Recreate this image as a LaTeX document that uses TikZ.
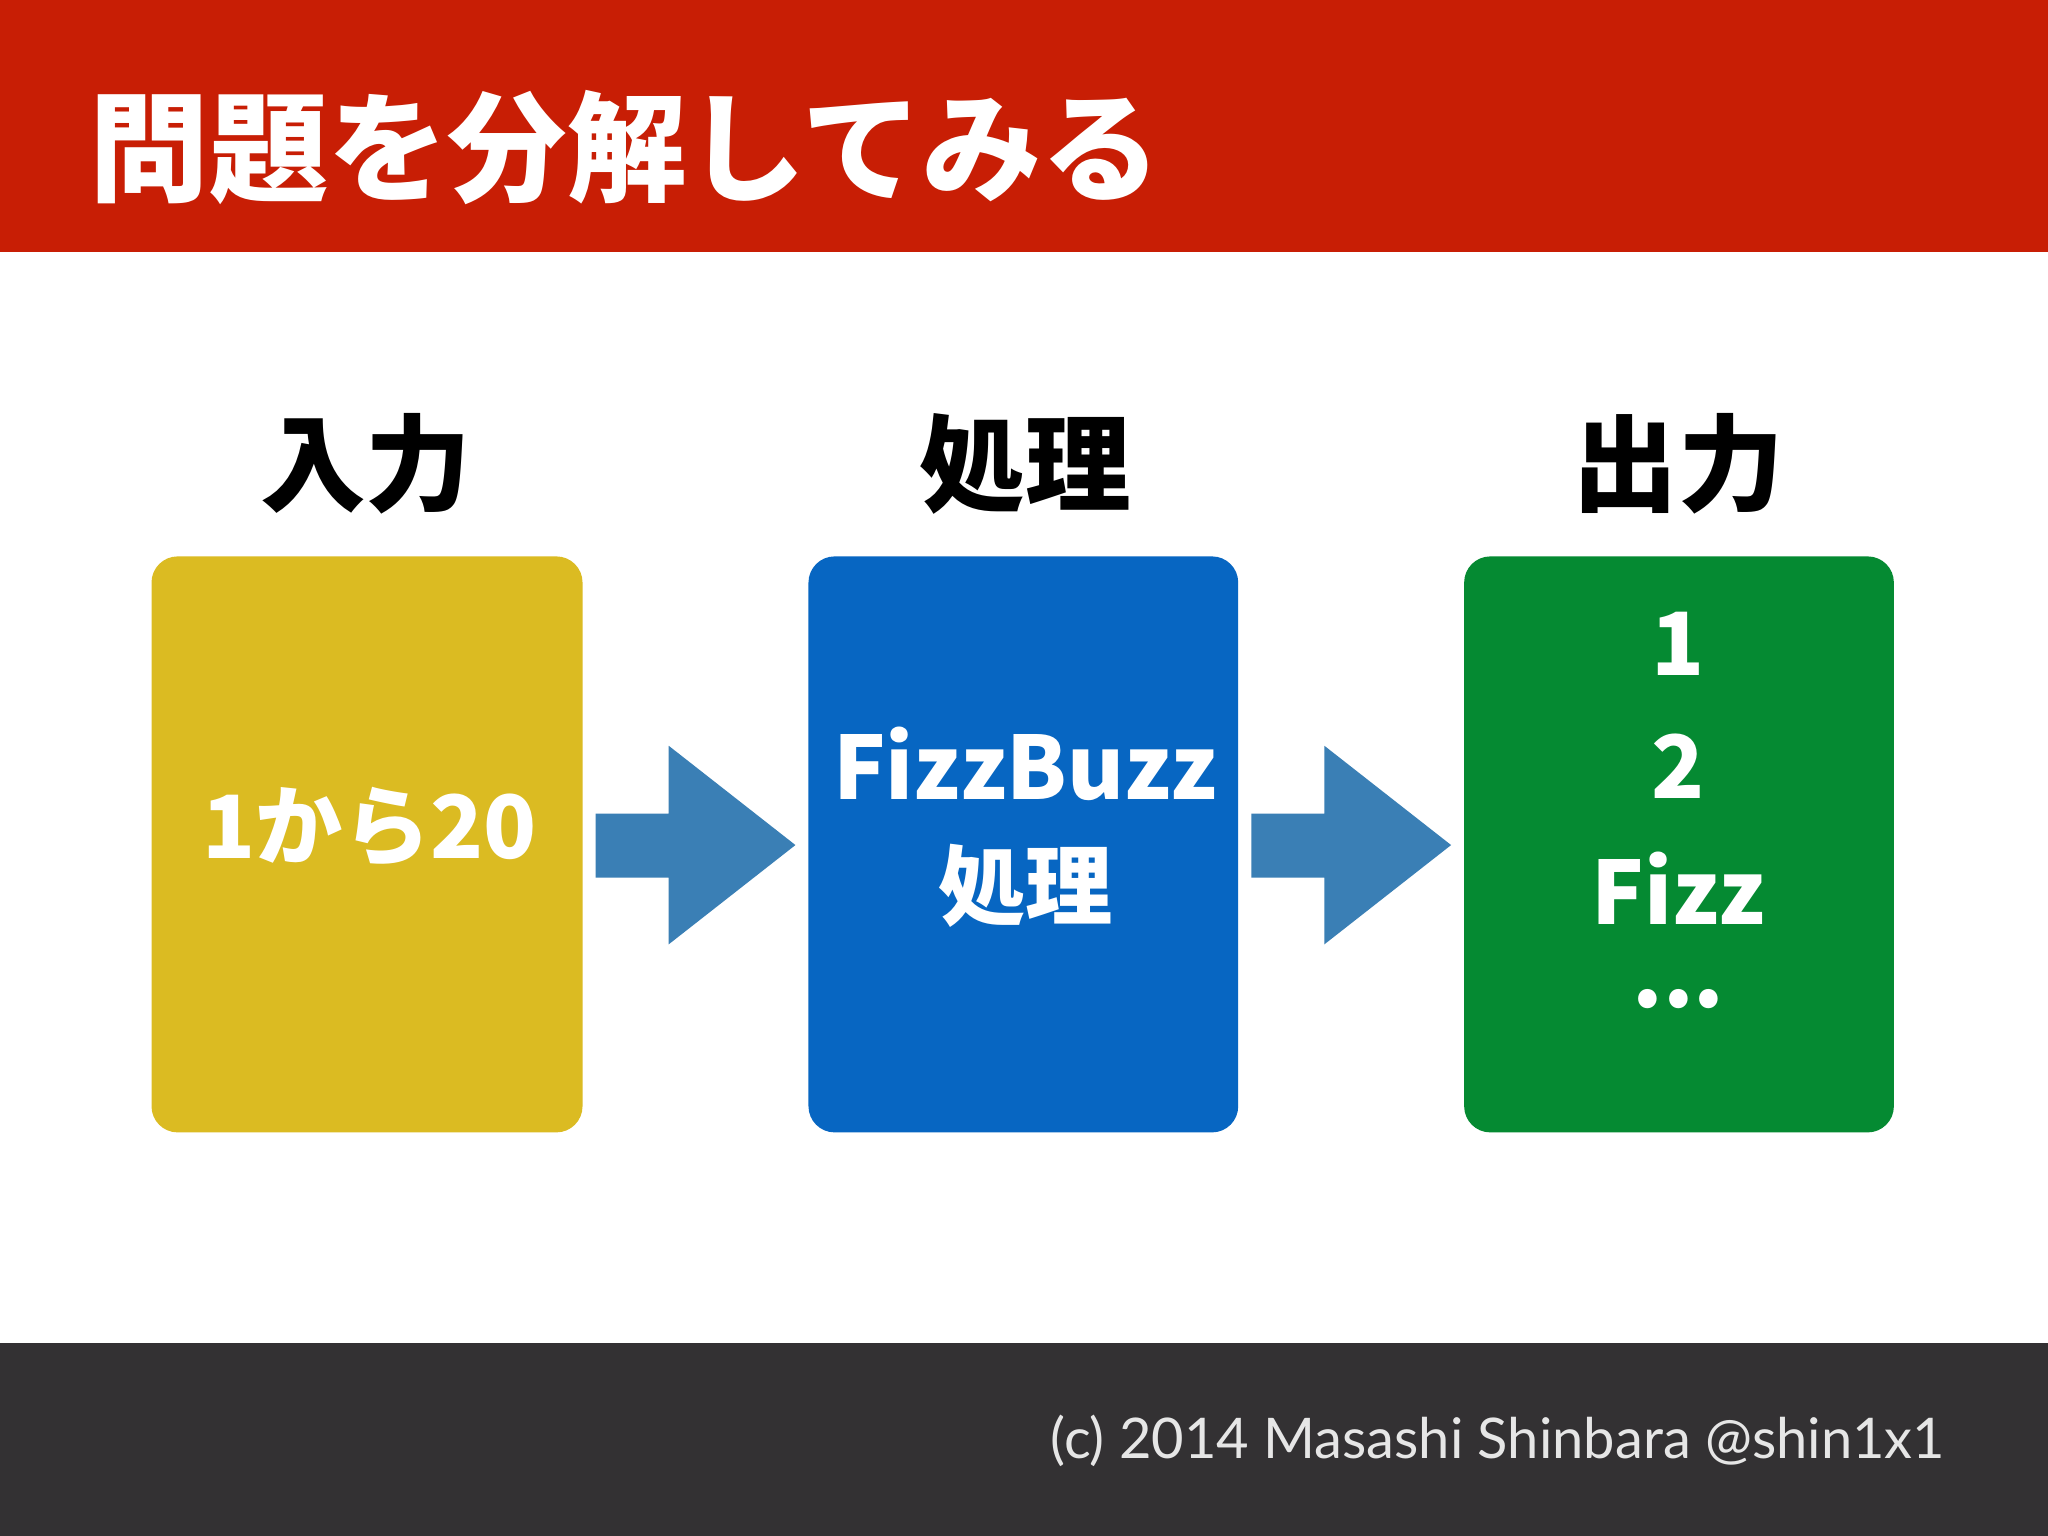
\documentclass[tikz,border=0pt]{standalone}
\usepackage{fontspec}
\newfontfamily\cjk{Noto Sans CJK JP}[BoldFont={Noto Sans CJK JP Black}]
\newfontfamily\foot{Lato}
\definecolor{hdr}{HTML}{C81E05}
\definecolor{ftr}{HTML}{333133}
\definecolor{yel}{HTML}{DBBB22}
\definecolor{blu}{HTML}{0766C2}
\definecolor{grn}{HTML}{058A32}
\definecolor{arr}{HTML}{3A7FB5}
\definecolor{ftxt}{HTML}{E6E6E6}
\tikzset{
 card/.style={rounded corners=0.2cm,draw=none},
 lbl/.style={font=\cjk\bfseries\fontsize{23}{23}\selectfont,text=black,inner sep=0},
 intext/.style={font=\cjk\bfseries\fontsize{19}{19}\selectfont,text=white,inner sep=0},
 bigarrow/.style={fill=arr,draw=none}
}
\begin{document}
\begin{tikzpicture}[x=0.01cm,y=-0.01cm]
\useasboundingbox (0,0) rectangle (1568,1176);
\fill[white] (0,0) rectangle (1568,1176);
\fill[hdr] (0,0) rectangle (1568,193);
\fill[ftr] (0,1028) rectangle (1568,1176);
\node[anchor=west,inner sep=0,text=white,font=\cjk\bfseries\fontsize{26}{26}\selectfont] (title) at (68,113) {問題を分解してみる};
\node[lbl] (l1) at (280,355) {入力};
\node[lbl] (l2) at (785,355) {処理};
\node[lbl] (l3) at (1285,355) {出力};
\fill[card,yel] (116,426) rectangle (446,867);
\fill[card,blu] (619,426) rectangle (948,867);
\fill[card,grn] (1121,426) rectangle (1450,867);
\node[intext] (t1) at (283,633) {1から20};
\node[intext] (t2) at (785,585) {FizzBuzz};
\node[intext] (t3) at (785,678) {処理};
\node[intext] (g1) at (1285,493) {1};
\node[intext] (g2) at (1285,587) {2};
\node[intext] (g3) at (1285,680) {Fizz};
\node[intext] (g4) at (1285,765) {...};
\foreach \x in {456,958}{
 \fill[bigarrow] (\x,623) -- (\x+56,623) -- (\x+56,571) -- (\x+153,647) -- (\x+56,723) -- (\x+56,672) -- (\x,672) -- cycle;
}
\node[anchor=east,inner sep=0,text=ftxt,font=\foot\fontsize{12.2}{12}\selectfont] (cp) at (1490,1103) {(c) 2014 Masashi Shinbara @shin1x1};
\end{tikzpicture}
\end{document}
